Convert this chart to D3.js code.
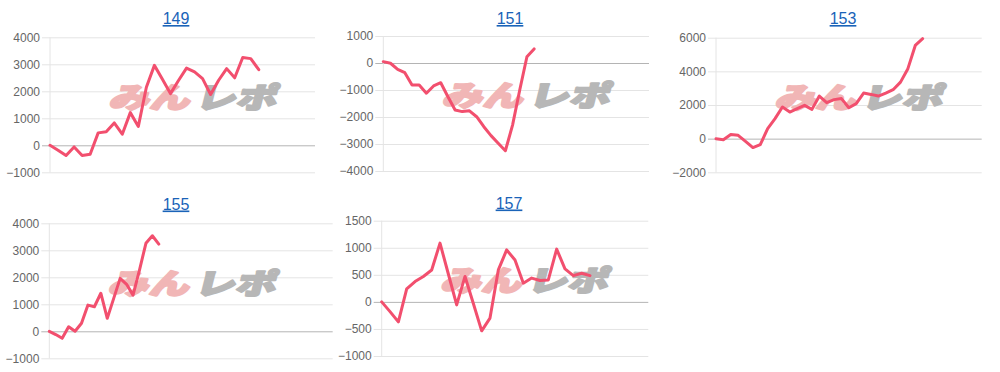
<!DOCTYPE html>
<html lang="ja">
    <head>
        <meta charset="utf-8">
        <title>slump charts</title>
        <script type="text/javascript" src="https://d3js.org/d3.v7.min.js"></script>
        <style>
            body { margin: 0; background: #fff; }
            svg { display: block; }
        </style>
    </head>
    <body>
        <script>
            // chart values
            const titles = ["149", "151", "153", "155", "157"];

            const values149 = [0, -180, -380, -60, -380, -330, 460, 500, 830, 410, 1210, 700, 2150, 2960,
                               2450, 1915, 2400, 2860, 2720, 2470, 1880, 2410, 2840, 2500, 3250, 3210, 2800];
            const values151 = [50, -10, -235, -360, -815, -815, -1120, -850, -730, -1250, -1740, -1800,
                               -1770, -1990, -2360, -2690, -2975, -3250, -2300, -1000, 230, 520];
            const values153 = [0, -60, 250, 200, -160, -530, -350, 600, 1190, 1880, 1580, 1780, 1980, 1740,
                               2530, 2140, 2320, 2380, 1840, 2080, 2710, 2630, 2530, 2710, 2910, 3360, 4160,
                               5540, 5940];
            const values155 = [0, -120, -260, 170, 0, 300, 970, 910, 1410, 480, 1220, 1960, 1740, 1340,
                               2270, 3260, 3540, 3230];
            const values157 = [0, -180, -370, 240, 375, 470, 590, 1085, 515, -55, 470, -30, -535, -300,
                               590, 960, 775, 345, 440, 395, 405, 975, 610, 485, 530, 485];

            const allValues = [values149, values151, values153, values155, values157];

            // number of x slots on each chart's category axis
            const xSlots = [33, 37, 36, 44, 32];

            const ticks149 = [-1000, 0, 1000, 2000, 3000, 4000];
            const ticks151 = [-4000, -3000, -2000, -1000, 0, 1000];
            const ticks153 = [-2000, 0, 2000, 4000, 6000];
            const ticks155 = [-1000, 0, 1000, 2000, 3000, 4000];
            const ticks157 = [-1000, -500, 0, 500, 1000, 1500];

            const allTicks = [ticks149, ticks151, ticks153, ticks155, ticks157];

            // plot boxes
            const boxes = [
                {left: 50, right: 315, top: 37.3, bottom: 172.3, titleX: 176, titleY: 24},
                {left: 383.3, right: 649, top: 36, bottom: 171, titleX: 510, titleY: 24},
                {left: 716, right: 981.7, top: 37.7, bottom: 172.3, titleX: 843, titleY: 24},
                {left: 49.3, right: 332.7, top: 223.3, bottom: 358.3, titleX: 176, titleY: 209.5},
                {left: 381.7, right: 648.3, top: 220.7, bottom: 356, titleX: 509, titleY: 208.5}
            ];

            const w = 1000;
            const h = 372;
            const lineColor = "#f24f6e";

            const svg = d3.select("body")
                        .append("svg")
                        .attr("width", w)
                        .attr("height", h);

            titles.forEach(function(t, i) {
                const b = boxes[i];
                const ticks = allTicks[i];
                const values = allValues[i];

                const xScale = d3.scaleLinear()
                               .domain([0, xSlots[i]])
                               .range([b.left, b.right]);

                const yScale = d3.scaleLinear()
                               .domain([d3.min(ticks), d3.max(ticks)])
                               .range([b.bottom, b.top]);

                const g = svg.append("g");

                // title (link style)
                g.append("text")
                 .attr("x", b.titleX)
                 .attr("y", b.titleY)
                 .attr("text-anchor", "middle")
                 .attr("font-family", "'Liberation Sans', Arial, sans-serif")
                 .attr("font-size", "16px")
                 .attr("fill", "#1a63b8")
                 .attr("text-decoration", "underline")
                 .text(t);

                // y axis + gridlines
                const yAxis = d3.axisLeft(yScale)
                                .tickValues(ticks)
                                .tickSizeInner(-(b.right - b.left + 8))
                                .tickSizeOuter(0)
                                .tickPadding(2)
                                .tickFormat(d3.format("d"));

                const ax = g.append("g")
                            .attr("transform", "translate(" + (b.left - 8) + ",0)")
                            .call(yAxis);

                ax.select(".domain").remove();
                ax.selectAll(".tick line")
                  .attr("stroke", function(d) { return d === 0 ? "#b4b4b4" : "#e4e4e4"; })
                  .attr("stroke-width", 1);
                ax.selectAll(".tick text")
                  .attr("font-family", "'Liberation Sans', Arial, sans-serif")
                  .attr("font-size", "12px")
                  .attr("fill", "#666");

                // vertical axis line
                g.append("line")
                 .attr("x1", b.left).attr("x2", b.left)
                 .attr("y1", b.top).attr("y2", b.bottom)
                 .attr("stroke", "#e4e4e4");

                // watermark
                const wm = g.append("g")
                            .attr("transform", "translate(" + (b.left + 144) + "," + (b.top + 58) + ") skewX(-14) scale(1.35,0.95)")
                            .attr("font-family", "'Noto Sans CJK JP', sans-serif")
                            .attr("font-weight", 900)
                            .attr("font-size", "30px")
                            .attr("stroke-width", 2.2)
                            .attr("stroke-linejoin", "round")
                            .attr("dominant-baseline", "central");
                wm.append("text")
                  .attr("x", -1)
                  .attr("text-anchor", "end")
                  .attr("fill", "#f1b6b6")
                  .attr("stroke", "#f1b6b6")
                  .text("みん");
                wm.append("text")
                  .attr("x", 3)
                  .attr("text-anchor", "start")
                  .attr("fill", "#b7b7b7")
                  .attr("stroke", "#b7b7b7")
                  .text("レポ");

                // the series line
                const line = d3.line()
                               .x(function(d, j) { return xScale(j); })
                               .y(function(d) { return yScale(d); });

                g.append("path")
                 .datum(values)
                 .attr("d", line)
                 .attr("fill", "none")
                 .attr("stroke", lineColor)
                 .attr("stroke-width", 3)
                 .attr("stroke-linejoin", "round")
                 .attr("stroke-linecap", "round");
            });
        </script>
    </body>
</html>
